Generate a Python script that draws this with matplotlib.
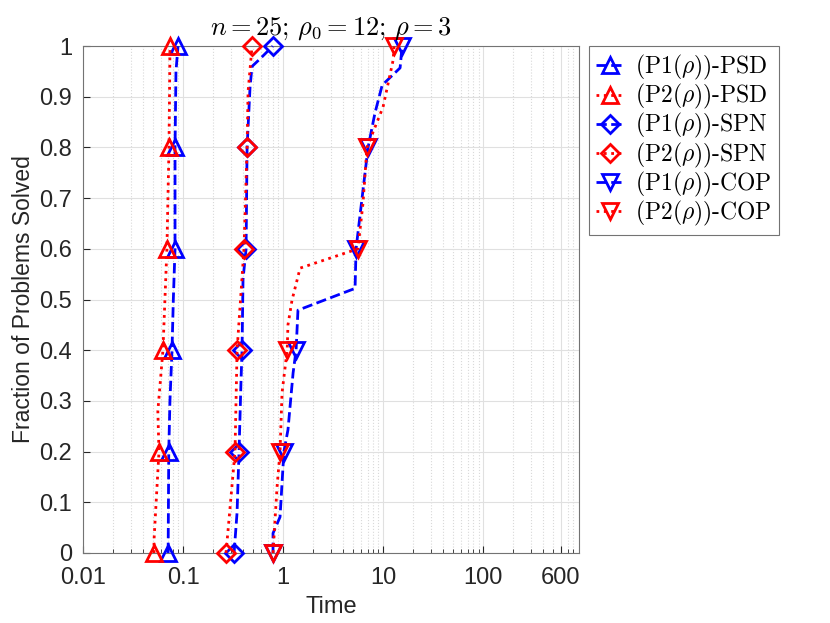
import numpy as np
import matplotlib
matplotlib.use('Agg')
import matplotlib.pyplot as plt

plt.rcParams['font.family'] = ['Liberation Sans', 'DejaVu Sans']
plt.rcParams['mathtext.fontset'] = 'cm'

# performance profile data (time, fraction solved)
p1_psd_t = [0.071, 0.072, 0.074, 0.0776, 0.080, 0.0832, 0.0832, 0.0850, 0.0891]
p1_psd_y = [0.0, 0.2, 0.3, 0.4, 0.5, 0.6, 0.8, 0.95, 1.0]
p2_psd_t = [0.0513, 0.0513, 0.0575, 0.056, 0.063, 0.069, 0.0724, 0.0741]
p2_psd_y = [0.0, 0.026, 0.2, 0.28, 0.4, 0.6, 0.8, 1.0]

p1_spn_t = [0.324, 0.347, 0.363, 0.380, 0.389, 0.398, 0.427, 0.437, 0.468, 0.49, 0.59, 0.79]
p1_spn_y = [0.0, 0.08, 0.2, 0.34, 0.4, 0.54, 0.6, 0.8, 0.92, 0.96, 0.975, 1.0]
p2_spn_t = [0.269, 0.282, 0.331, 0.347, 0.407, 0.437, 0.447, 0.49]
p2_spn_y = [0.0, 0.045, 0.2, 0.4, 0.6, 0.8, 0.91, 1.0]

p1_cop_t = [0.794, 0.794, 0.933, 1.02, 1.12, 1.26, 1.35, 1.41, 5.25, 5.37, 7.08, 8.3, 9.8, 14.8, 15.5]
p1_cop_y = [0.0, 0.039, 0.071, 0.2, 0.243, 0.355, 0.4, 0.479, 0.522, 0.6, 0.8, 0.868, 0.923, 0.957, 1.0]
p2_cop_t = [0.794, 0.871, 0.933, 0.977, 1.10, 1.12, 1.23, 1.38, 1.48, 5.6, 6.3, 6.9, 10.0, 12.6, 12.9]
p2_cop_y = [0.0, 0.13, 0.2, 0.316, 0.4, 0.45, 0.499, 0.538, 0.562, 0.6, 0.69, 0.8, 0.88, 0.972, 1.0]

mark_levels = [0.0, 0.2, 0.4, 0.6, 0.8, 1.0]
xticks = [0.01, 0.1, 1, 10, 100, 600]
xtick_labels = ['0.01', '0.1', '1', '10', '100', '600']
yticks = [0, 0.1, 0.2, 0.3, 0.4, 0.5, 0.6, 0.7, 0.8, 0.9, 1]
ytick_labels = ['0', '0.1', '0.2', '0.3', '0.4', '0.5', '0.6', '0.7', '0.8', '0.9', '1']

def mark_idx(y):
    return [i for i, v in enumerate(y) if any(abs(v - m) < 1e-9 for m in mark_levels)]

fig = plt.figure(figsize=(8.3, 6.23), dpi=100)
ax = fig.add_axes([0.1, 0.1124, 0.5976, 0.8136])

series = [
    (p1_psd_t, p1_psd_y, 'b', '--', '^', r'(P1($\rho$))-PSD'),
    (p2_psd_t, p2_psd_y, 'r', ':', '^', r'(P2($\rho$))-PSD'),
    (p1_spn_t, p1_spn_y, 'b', '--', 'D', r'(P1($\rho$))-SPN'),
    (p2_spn_t, p2_spn_y, 'r', ':', 'D', r'(P2($\rho$))-SPN'),
    (p1_cop_t, p1_cop_y, 'b', '--', 'v', r'(P1($\rho$))-COP'),
    (p2_cop_t, p2_cop_y, 'r', ':', 'v', r'(P2($\rho$))-COP'),
]
for t, y, c, ls, mk, lab in series:
    ms = 9 if mk == 'D' else 12
    ax.plot(t, y, color=c, ls=ls, lw=2, marker=mk, ms=ms, mfc='none', mew=2,
            markevery=mark_idx(y), label=lab, clip_on=False, zorder=3)

ax.set_xscale('log')
ax.set_xlim(0.01, 910)
ax.set_ylim(0, 1)
ax.set_xticks(xticks)
ax.set_xticklabels(xtick_labels)
ax.set_yticks(yticks)
ax.set_yticklabels(ytick_labels)
ax.tick_params(which='both', direction='in', labelsize=17, colors='0.15', top=False, right=False)
ax.tick_params(which='major', length=5)
ax.tick_params(which='minor', length=3)
ax.tick_params(axis='x', which='major', pad=10)
ax.tick_params(axis='y', which='major', pad=8)
ax.grid(True, which='major', color='0.88', lw=0.8)
ax.grid(True, which='minor', axis='x', color='0.85', ls=':', lw=0.8)
ax.set_axisbelow(True)
for s in ax.spines.values():
    s.set_color('0.45')

ax.set_xlabel('Time', fontsize=17, color='0.15', labelpad=5)
ax.set_ylabel('Fraction of Problems Solved', fontsize=16.5, color='0.15', labelpad=3)
ax.set_title(r'$n = 25;\, \rho_0 = 12;\, \rho = 3$', fontsize=19, pad=8)

leg = ax.legend(loc='upper left', bbox_to_anchor=(1.02, 1.0), fancybox=False,
                framealpha=1, edgecolor='0.45', handlelength=1.2, borderaxespad=0,
                labelspacing=0.0, handletextpad=0.45, borderpad=0.3,
                prop={'family': 'cmr10', 'size': 17})
leg.get_frame().set_linewidth(0.8)

fig.savefig('out.png', dpi=100)
